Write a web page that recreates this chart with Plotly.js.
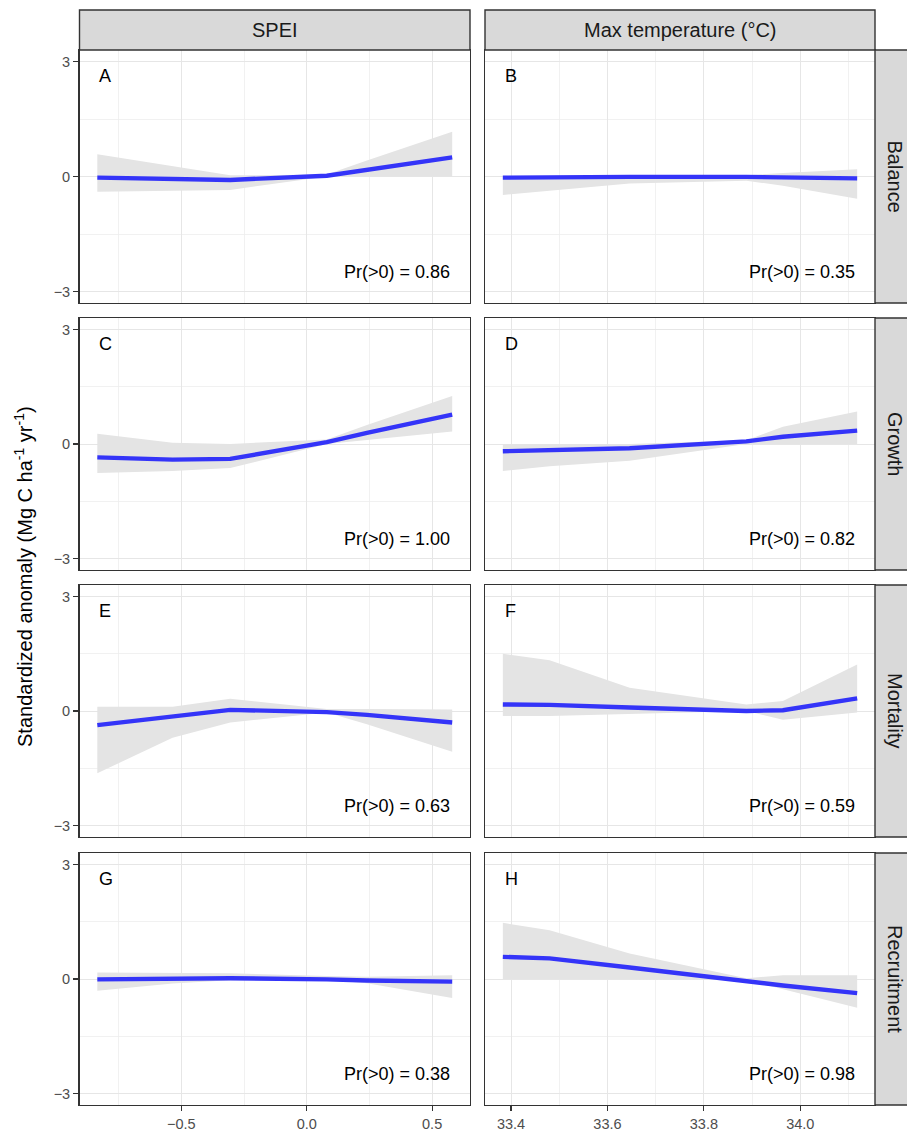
<!DOCTYPE html>
<html><head><meta charset="utf-8">
<script src="https://cdn.plot.ly/plotly-3.0.1.min.js"></script>
<style>html,body{margin:0;padding:0;background:#fff}</style>
</head><body><div id="chart" style="width:907px;height:1132px"></div>
<script>
// ---- data ----
const speiX = [-0.835, -0.535, -0.305, 0.08, 0.24, 0.58];
const tempX = [33.383, 33.48, 33.646, 33.888, 33.964, 34.118];
const columnLabels = ['SPEI', 'Max temperature (°C)'];
const rowLabels = ['Balance', 'Growth', 'Mortality', 'Recruitment'];
const panelLetters = ['A', 'B', 'C', 'D', 'E', 'F', 'G', 'H'];
const probLabels = ['0.86', '0.35', '1.00', '0.82', '0.63', '0.59', '0.38', '0.98'];
const yTicks = [-3, 0, 3];
const yMinorTicks = [-1.5, 1.5];
const speiTicks = [-0.5, 0.0, 0.5];
const speiMinorTicks = [-0.75, -0.25, 0.25];
const tempTicks = [33.4, 33.6, 33.8, 34.0];
const tempMinorTicks = [33.5, 33.7, 33.9, 34.1];

// A: Balance ~ SPEI
const fitA = [-0.03, -0.07, -0.09, 0.02, 0.17, 0.50];
const upperA = [0.58, 0.27, 0.03, 0.05, 0.42, 1.17];
const lowerA = [-0.40, -0.38, -0.35, 0.00, 0.00, 0.00];
// B: Balance ~ Max temperature
const fitB = [-0.03, -0.02, -0.01, -0.01, -0.02, -0.05];
const upperB = [0.00, 0.01, 0.02, 0.03, 0.09, 0.19];
const lowerB = [-0.48, -0.37, -0.18, -0.11, -0.24, -0.58];
// C: Growth ~ SPEI
const fitC = [-0.35, -0.41, -0.39, 0.05, 0.29, 0.77];
const upperC = [0.27, 0.03, 0.00, 0.12, 0.50, 1.26];
const lowerC = [-0.76, -0.71, -0.63, 0.00, 0.10, 0.33];
// D: Growth ~ Max temperature
const fitD = [-0.19, -0.17, -0.11, 0.07, 0.19, 0.35];
const upperD = [0.00, 0.00, 0.00, 0.10, 0.45, 0.85];
const lowerD = [-0.71, -0.58, -0.44, 0.00, 0.00, 0.00];
// E: Mortality ~ SPEI
const fitE = [-0.37, -0.13, 0.03, -0.03, -0.10, -0.30];
const upperE = [0.11, 0.11, 0.32, 0.05, 0.05, 0.04];
const lowerE = [-1.63, -0.70, -0.30, -0.04, -0.35, -1.07];
// F: Mortality ~ Max temperature
const fitF = [0.17, 0.16, 0.09, 0.00, 0.02, 0.33];
const upperF = [1.50, 1.33, 0.61, 0.17, 0.26, 1.22];
const lowerF = [-0.13, -0.13, -0.08, 0.00, -0.23, -0.04];
// G: Recruitment ~ SPEI
const fitG = [-0.01, 0.00, 0.02, -0.01, -0.04, -0.07];
const upperG = [0.17, 0.16, 0.15, 0.08, 0.06, 0.10];
const lowerG = [-0.31, -0.12, -0.03, -0.02, -0.11, -0.50];
// H: Recruitment ~ Max temperature
const fitH = [0.58, 0.54, 0.30, -0.07, -0.17, -0.37];
const upperH = [1.47, 1.28, 0.67, 0.02, 0.10, 0.10];
const lowerH = [0.00, 0.00, 0.00, -0.03, -0.27, -0.75];

const fits = [fitA, fitB, fitC, fitD, fitE, fitF, fitG, fitH];
const uppers = [upperA, upperB, upperC, upperD, upperE, upperF, upperG, upperH];
const lowers = [lowerA, lowerB, lowerC, lowerD, lowerE, lowerF, lowerG, lowerH];

// ---- layout geometry (pixels) ----
const W = 907, H = 1132;
const FONT = 'Liberation Sans, Arial, Helvetica, sans-serif';
const colPx = [[79.5, 470], [485, 875]];
const rowPx = [[50, 303], [318, 570], [585, 837], [853, 1105]];
const px2x = p => p / W;
const px2y = p => 1 - p / H;

const xRanges = [[-0.906, 0.651], [33.346, 34.155]];
const xTickSets = [speiTicks, tempTicks];
const xMinorSets = [speiMinorTicks, tempMinorTicks];
const fmt = v => (v < 0 ? '\u2212' : '') + Math.abs(v).toFixed(1);

const traces = [];
const layout = {
  width: W, height: H,
  margin: {l: 0, r: 0, t: 0, b: 0},
  paper_bgcolor: '#ffffff', plot_bgcolor: '#ffffff',
  showlegend: false,
  font: {family: FONT, color: '#4D4D4D'},
  shapes: [], annotations: []
};

for (let i = 0; i < 8; i++) {
  const r = Math.floor(i / 2), c = i % 2;
  const sfx = i === 0 ? '' : String(i + 1);
  const xs = c === 0 ? speiX : tempX;
  const xa = 'x' + sfx, ya = 'y' + sfx;

  traces.push({
    x: xs.concat(xs.slice().reverse()),
    y: uppers[i].concat(lowers[i].slice().reverse()),
    xaxis: xa, yaxis: ya, type: 'scatter', mode: 'lines',
    fill: 'toself', fillcolor: '#E4E4E4', line: {width: 0}, hoverinfo: 'skip'
  });
  traces.push({
    x: xs, y: fits[i], xaxis: xa, yaxis: ya, type: 'scatter', mode: 'lines',
    line: {color: '#3434F8', width: 4.4}, hoverinfo: 'skip'
  });

  layout['xaxis' + sfx] = {
    domain: [px2x(colPx[c][0]), px2x(colPx[c][1])],
    anchor: ya, range: xRanges[c],
    tickmode: 'array', tickvals: xTickSets[c], ticktext: xTickSets[c].map(fmt),
    showgrid: true, gridcolor: '#E6E6E6', gridwidth: 1,
    minor: {tickmode: 'array', tickvals: xMinorSets[c], showgrid: true, gridcolor: '#EDEDED', gridwidth: 0.8},
    zeroline: false, showline: true, mirror: true, linecolor: '#333333', linewidth: 1.4,
    showticklabels: r === 3, ticks: r === 3 ? 'outside' : '', ticklen: 5, tickcolor: '#333333', tickwidth: 1.1,
    tickfont: {size: 14.5, color: '#4D4D4D', family: FONT}, fixedrange: true
  };
  layout['yaxis' + sfx] = {
    domain: [px2y(rowPx[r][1]), px2y(rowPx[r][0])],
    anchor: xa, range: [-3.3, 3.3],
    tickmode: 'array', tickvals: yTicks, ticktext: yTicks.map(v => (v < 0 ? '\u2212' : '') + Math.abs(v)),
    showgrid: true, gridcolor: '#E6E6E6', gridwidth: 1,
    minor: {tickmode: 'array', tickvals: yMinorTicks, showgrid: true, gridcolor: '#EDEDED', gridwidth: 0.8},
    zeroline: false, showline: true, mirror: true, linecolor: '#333333', linewidth: 1.4,
    showticklabels: c === 0, ticks: c === 0 ? 'outside' : '', ticklen: 5, tickcolor: '#333333', tickwidth: 1.1,
    tickfont: {size: 14.5, color: '#4D4D4D', family: FONT}, fixedrange: true
  };

  layout.annotations.push({
    xref: xa, yref: ya, x: xs[0], y: 2.63, xanchor: 'left', yanchor: 'middle',
    text: panelLetters[i], showarrow: false, font: {size: 18, color: '#000000', family: FONT}
  });
  layout.annotations.push({
    xref: xa, yref: ya, x: xs[xs.length - 1], y: -2.5, xanchor: 'right', yanchor: 'middle',
    text: 'Pr(>0) = ' + probLabels[i], showarrow: false, font: {size: 18, color: '#000000', family: FONT}
  });
}

// column strips (top)
for (let c = 0; c < 2; c++) {
  layout.shapes.push({
    type: 'rect', xref: 'paper', yref: 'paper',
    x0: px2x(colPx[c][0]), x1: px2x(colPx[c][1]), y0: px2y(50), y1: px2y(10),
    fillcolor: '#D9D9D9', line: {color: '#333333', width: 1.4}, layer: 'above'
  });
  layout.annotations.push({
    xref: 'paper', yref: 'paper', x: px2x((colPx[c][0] + colPx[c][1]) / 2), y: px2y(30),
    xanchor: 'center', yanchor: 'middle', text: columnLabels[c], showarrow: false,
    font: {size: 20, color: '#1A1A1A', family: FONT}
  });
}
// row strips (right)
for (let r = 0; r < 4; r++) {
  layout.shapes.push({
    type: 'rect', xref: 'paper', yref: 'paper',
    x0: px2x(875), x1: px2x(915), y0: px2y(rowPx[r][1]), y1: px2y(rowPx[r][0]),
    fillcolor: '#D9D9D9', line: {color: '#333333', width: 1.4}, layer: 'above'
  });
  layout.annotations.push({
    xref: 'paper', yref: 'paper', x: px2x(895), y: px2y((rowPx[r][0] + rowPx[r][1]) / 2),
    xanchor: 'center', yanchor: 'middle', text: rowLabels[r], textangle: 90, showarrow: false,
    font: {size: 20, color: '#1A1A1A', family: FONT}
  });
}
// y-axis title
layout.annotations.push({
  xref: 'paper', yref: 'paper', x: px2x(23), y: px2y(577),
  xanchor: 'center', yanchor: 'middle', textangle: -90, showarrow: false,
  text: 'Standardized anomaly (Mg C ha<sup>-1</sup> yr<sup>-1</sup>)',
  font: {size: 20, color: '#000000', family: FONT}
});

Plotly.newPlot('chart', traces, layout, {displayModeBar: false, staticPlot: true});
</script>
</body></html>
